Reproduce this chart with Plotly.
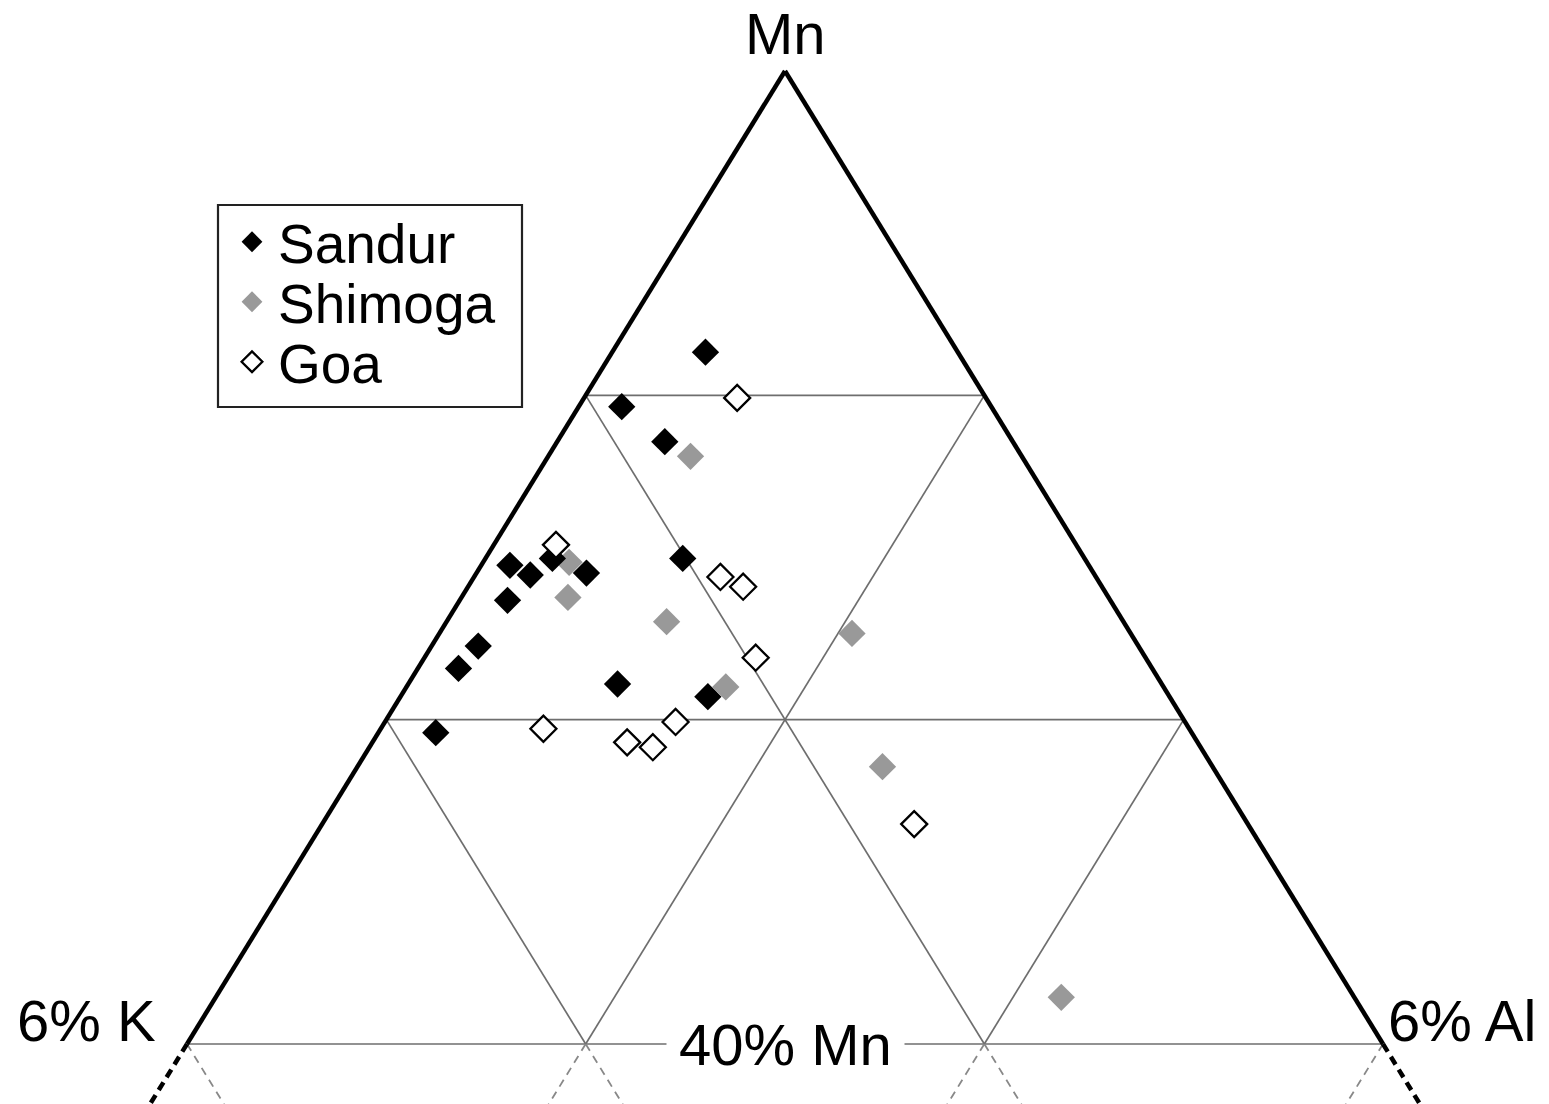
import plotly.graph_objects as go

# Compositions (%) of the normalised components: Mn, 6% K, 6% Al
sandur_mn = [71.1, 65.5, 61.9, 49.2, 48.2, 49.9, 48.4, 45.6, 49.9, 40.9, 38.6, 37.0, 35.7, 32.0]
sandur_k = [21.1, 30.9, 29.1, 48.4, 47.2, 44.5, 42.4, 50.4, 33.6, 55.2, 58.0, 45.5, 38.6, 63.2]
sandur_al = [7.8, 3.6, 9.0, 2.4, 4.6, 5.6, 9.2, 4.0, 16.5, 3.9, 3.4, 17.5, 25.7, 4.8]

shimoga_mn = [60.4, 49.5, 45.9, 43.4, 36.7, 42.2, 28.5, 4.8]
shimoga_k = [27.7, 43.3, 45.2, 38.2, 36.6, 23.3, 27.6, 24.5]
shimoga_al = [11.9, 7.2, 8.9, 18.4, 26.7, 34.5, 43.9, 70.7]

goa_mn = [66.4, 51.3, 48.0, 47.0, 39.7, 32.4, 33.1, 31.0, 30.5, 22.6]
goa_k = [20.8, 43.5, 31.4, 30.0, 32.6, 54.0, 42.6, 47.7, 45.8, 27.9]
goa_al = [12.8, 5.2, 20.6, 23.0, 27.7, 13.6, 24.3, 21.3, 23.7, 49.5]

grid_fracs = [1 / 3, 2 / 3]
ext_fracs = [1 / 3, 2 / 3, 1]
ext_depth = -0.07

FONT = "Liberation Sans, Arial, sans-serif"

# page geometry
W, H = 1549, 1104
K_PX, AL_PX, BASE_PX, TOP_PX = 187.0, 1383.0, 1044.0, 71.0   # triangle corners on the page


def to_xy(mn, al):
    """ternary (Mn, Al) fractions -> cartesian (x, y): K at (0,0), Al at (1,0), Mn at (0.5,1)"""
    return al + mn / 2.0, mn


def line_xy(pts):
    xs, ys = [], []
    for mn, al in pts:
        x, y = to_xy(mn, al)
        xs.append(x)
        ys.append(y)
    return xs, ys


def px_x(p):
    return (p - K_PX) / (AL_PX - K_PX)


def px_y(p):
    return (BASE_PX - p) / (BASE_PX - TOP_PX)


fig = go.Figure()

# interior grid lines + bottom (40% Mn) edge, thin grey
gx, gy = [], []
for f in grid_fracs:
    for seg in ([(f, 0), (f, 1 - f)],          # constant Mn
                [(0, f), (1 - f, f)],          # constant Al
                [(0, 1 - f), (1 - f, 0)]):     # constant K
        xs, ys = line_xy(seg)
        gx += xs + [None]
        gy += ys + [None]
xs, ys = line_xy([(0, 0), (0, 1)])
gx += xs + [None]
gy += ys + [None]
fig.add_trace(go.Scatter(x=gx, y=gy, mode="lines", line=dict(color="#6e6e6e", width=1.7),
                         hoverinfo="skip", showlegend=False))

# dashed grey continuation below the 40% Mn line
dx, dy = [], []
for f in ext_fracs:
    xs, ys = line_xy([(0, f), (ext_depth, f)])                      # constant Al, down-left
    dx += xs + [None]
    dy += ys + [None]
    xs, ys = line_xy([(0, 1 - f), (ext_depth, 1 - f - ext_depth)])  # constant K, down-right
    dx += xs + [None]
    dy += ys + [None]
fig.add_trace(go.Scatter(x=dx, y=dy, mode="lines", line=dict(color="#888888", width=1.8, dash="8px,6px"),
                         hoverinfo="skip", showlegend=False))

# thick outer edges
ex, ey = [], []
xs, ys = line_xy([(0, 0), (1, 0)])
ex += xs + [None]
ey += ys + [None]
xs, ys = line_xy([(1, 0), (0, 1)])
ex += xs + [None]
ey += ys + [None]
fig.add_trace(go.Scatter(x=ex, y=ey, mode="lines", line=dict(color="black", width=4.5),
                         hoverinfo="skip", showlegend=False))
# thick dashed continuation of the outer edges
tx, ty = [], []
xs, ys = line_xy([(0, 0), (ext_depth, 0)])
tx += xs + [None]
ty += ys + [None]
xs, ys = line_xy([(0, 1), (ext_depth, 1 - ext_depth)])
tx += xs + [None]
ty += ys + [None]
fig.add_trace(go.Scatter(x=tx, y=ty, mode="lines", line=dict(color="black", width=4.5, dash="9px,6px"),
                         hoverinfo="skip", showlegend=False))


def series(mn, k, al):
    xs, ys = [], []
    for m, kk, a in zip(mn, k, al):
        tot = m + kk + a
        x, y = to_xy(m / tot, a / tot)
        xs.append(x)
        ys.append(y)
    return xs, ys


MS = 21
sx, sy = series(shimoga_mn, shimoga_k, shimoga_al)
fig.add_trace(go.Scatter(x=sx, y=sy, mode="markers", name="Shimoga", legend="legend2",
                         marker=dict(symbol="diamond", size=MS, color="#999999", line=dict(width=0))))
sx, sy = series(sandur_mn, sandur_k, sandur_al)
fig.add_trace(go.Scatter(x=sx, y=sy, mode="markers", name="Sandur", legend="legend",
                         marker=dict(symbol="diamond", size=MS, color="black", line=dict(width=0))))
sx, sy = series(goa_mn, goa_k, goa_al)
fig.add_trace(go.Scatter(x=sx, y=sy, mode="markers", name="Goa", legend="legend3",
                         marker=dict(symbol="diamond", size=MS - 1, color="white",
                                     line=dict(width=2.3, color="black"))))

# labels
lab_font = dict(family=FONT, size=58, color="black")
fig.add_annotation(x=0.5, y=1, yref="paper", text="Mn", showarrow=False, xanchor="center",
                   yanchor="top", borderpad=0, font=lab_font)
fig.add_annotation(x=px_x(158), y=px_y(1020), text="6% K", showarrow=False, xanchor="right",
                   yanchor="middle", font=lab_font)
fig.add_annotation(x=px_x(1386), y=px_y(1020), text="6% Al", showarrow=False, xanchor="left",
                   yanchor="middle", font=lab_font)
fig.add_annotation(x=0.5, y=0.0, text="40% Mn", showarrow=False, xanchor="center", yanchor="middle",
                   bgcolor="white", borderpad=12, font=lab_font)


def paper_x(p):
    return p / W


def paper_y(p):
    return 1 - p / H


# legend frame
fig.add_shape(type="rect", xref="paper", yref="paper",
              x0=paper_x(218), x1=paper_x(522), y0=paper_y(407), y1=paper_y(205),
              line=dict(color="#222222", width=2.2), fillcolor="white", layer="below")

leg_common = dict(xanchor="left", yanchor="middle", bgcolor="rgba(0,0,0,0)", borderwidth=0,
                  font=dict(family=FONT, size=55, color="black"), itemwidth=42)
fig.update_layout(
    width=W, height=H,
    margin=dict(l=0, r=0, t=0, b=0),
    plot_bgcolor="white", paper_bgcolor="white",
    xaxis=dict(range=[px_x(0), px_x(W)], visible=False, fixedrange=True),
    yaxis=dict(range=[px_y(H), px_y(0)], visible=False, fixedrange=True),
    showlegend=True,
    legend=dict(x=paper_x(226), y=paper_y(242), **leg_common),
    legend2=dict(x=paper_x(226), y=paper_y(302), **leg_common),
    legend3=dict(x=paper_x(226), y=paper_y(362), **leg_common),
)

fig.write_html("out.html", config={"displayModeBar": False},
               post_script="document.body.style.margin='0';")
